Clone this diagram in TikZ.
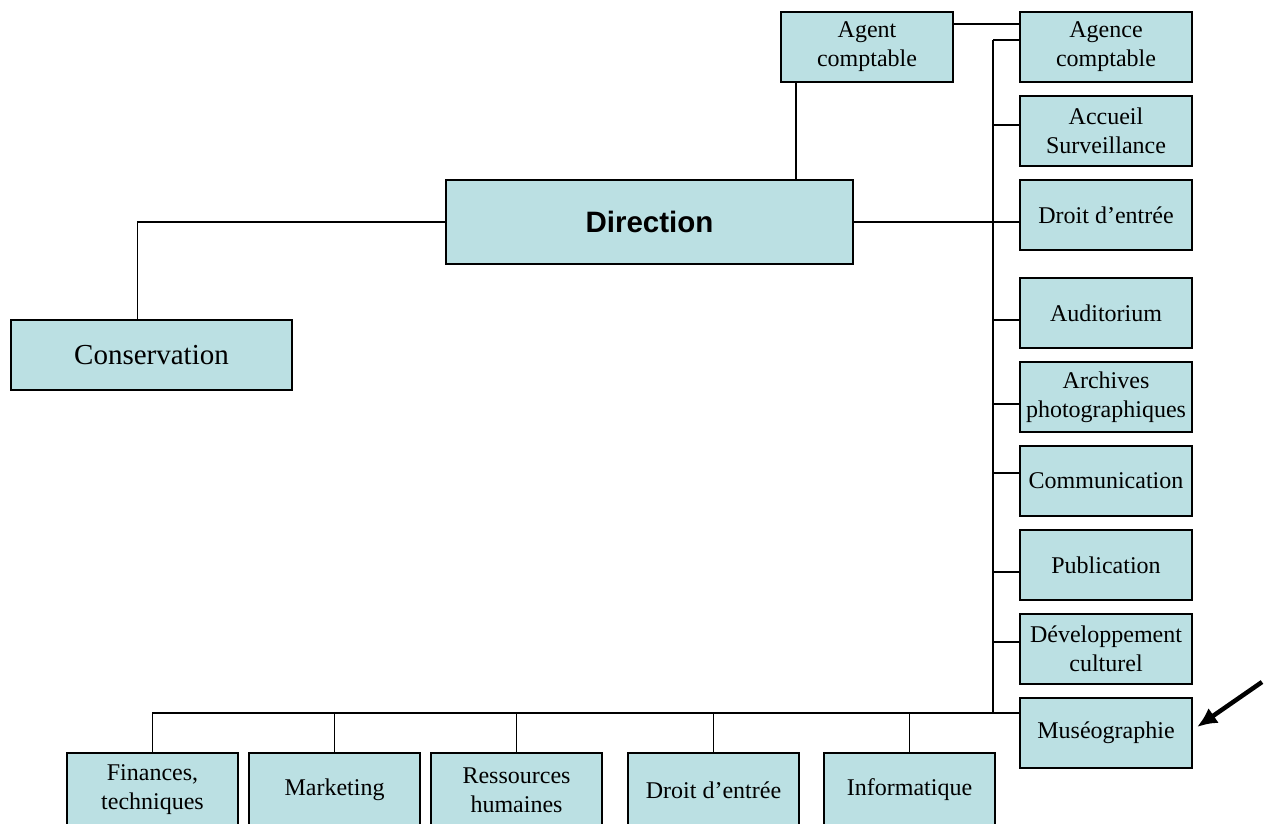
\documentclass[tikz,border=0pt]{standalone}
\usepackage{fontspec}
\setmainfont{Liberation Serif}
\newfontfamily\arialfont{Liberation Sans}
\usetikzlibrary{arrows.meta}
\usetikzlibrary{calc}
\usetikzlibrary{positioning}
\definecolor{unitblue}{HTML}{BBE0E3}

\begin{document}
\begin{tikzpicture}[x=1pt,y=-1pt,-,line width=1.8pt]
 \tikzstyle{unit}=[draw, fill=unitblue, line width=1.6pt, outer sep=0pt, minimum width=172pt, minimum height=70pt, inner sep=1pt, align=center, font=\fontsize{24}{29}\selectfont]
 \useasboundingbox (0,0) rectangle (1271,823);
 % top and middle
 \node[unit]            (agent)    at (867,47)     {Agent\\comptable};
 \node[unit, minimum width=407pt, minimum height=84pt, font=\arialfont\bfseries\fontsize{29.5}{34}\selectfont]
                        (direction) at (649.5,222) {Direction};
 \node[unit, minimum width=281pt, font=\fontsize{29}{34}\selectfont]
                        (conserv)  at (151.5,355)  {Conservation};
 % right column
 \node[unit]            (agence)   at (1106,47)    {Agence\\comptable};
 \node[unit]            (accueil)  [below=14pt of agence]   {Accueil\\Surveillance};
 \node[unit]            (droit)    [below=14pt of accueil]  {Droit d'entrée};
 \node[unit]            (audit)    [below=28pt of droit]    {Auditorium};
 \node[unit]            (archives) [below=14pt of audit]    {Archives\\photographiques};
 \node[unit]            (comm)     [below=14pt of archives] {Communication};
 \node[unit]            (pub)      [below=14pt of comm]     {Publication};
 \node[unit]            (devcult)  [below=14pt of pub]      {Développement\\culturel};
 \node[unit]            (muse)     [below=14pt of devcult]  {Muséographie};
 % bottom row (cut by the page edge)
 \node[unit, minimum width=171pt, minimum height=74pt] (fin)    at (152.5,790)          {Finances,\\techniques};
 \node[unit, minimum width=171pt, minimum height=74pt] (mkt)    [right=11pt of fin]     {Marketing};
 \node[unit, minimum width=171pt, minimum height=74pt] (rh)     [right=11pt of mkt]     {Ressources\\humaines};
 \node[unit, minimum width=171pt, minimum height=74pt] (droitb) [right=26pt of rh]      {Droit d'entrée};
 \node[unit, minimum width=171pt, minimum height=74pt] (info)   [right=25pt of droitb]  {Informatique};

 \coordinate (trunktop) at (993,40);
 \coordinate (trunkbot) at (993,713);
 \coordinate (pointer)  at (1262,682);

 % connectors
 \draw ([xshift=15pt]agent.south west) -- ([xshift=15pt]agent.south west |- direction.north);
 \draw ([yshift=-12pt]agent.north east) -- ([yshift=-12pt]agence.north west);
 \draw (direction.west) -| ([xshift=-14pt]conserv.north);
 \draw (direction.east) -- (direction.east -| droit.west);
 \draw (trunktop) -- (trunkbot);
 \draw (trunktop) -- (trunktop -| agence.west);
 \foreach \n/\dy in {accueil/6, audit/-7, archives/-7, comm/8, pub/-7, devcult/7}
   \draw ([yshift=\dy pt]\n.west) -- ++(-27,0);
 \draw (fin.north) |- (trunkbot) -- (trunkbot -| muse.west);
 \foreach \n in {mkt, rh, droitb, info}
   \draw (\n.north) -- (\n.north |- trunkbot);

 \draw[-{Latex[length=20pt,width=18pt]}, line width=4.5pt] (pointer) -- ([xshift=5pt,yshift=6pt]muse.east);
\end{tikzpicture}
\end{document}
